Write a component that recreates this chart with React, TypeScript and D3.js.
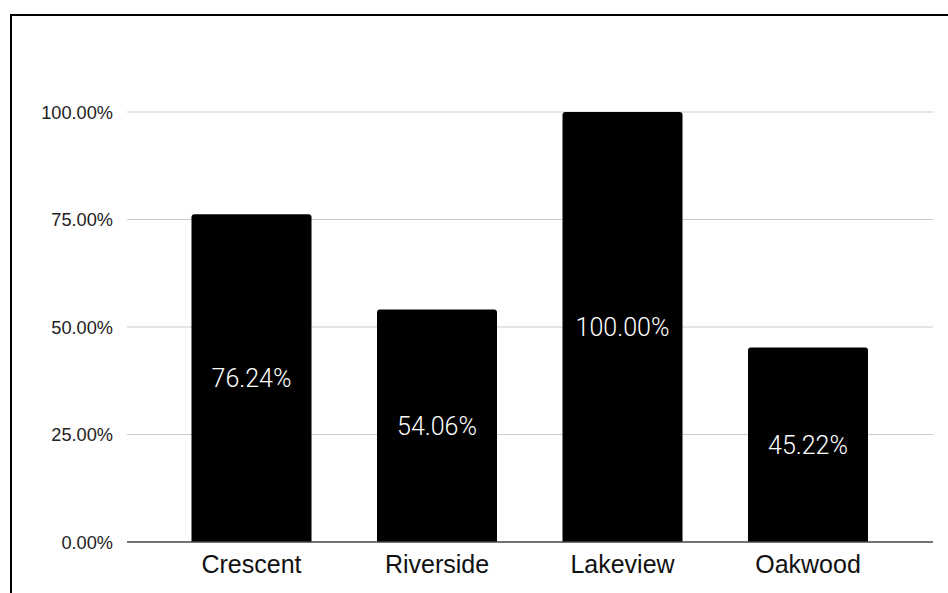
import React from "react";
import * as d3 from "d3";

const categories = ["Crescent", "Riverside", "Lakeview", "Oakwood"];
const values = [76.24, 54.06, 100.0, 45.22];
const yTicks = [0, 25, 50, 75, 100];

const W = 948;
const H = 593;

export default function App() {
  const x = d3
    .scaleBand<string>()
    .domain(categories)
    .range([158.75, 900.75])
    .paddingInner(0.353)
    .paddingOuter(0.1765);
  const y = d3.scaleLinear().domain([0, 100]).range([542, 112]);
  const gridX0 = 127;
  const gridX1 = 933;
  const fmt = (v: number) => v.toFixed(2) + "%";
  const axisFont = "'Liberation Sans', Arial, sans-serif";

  return (
    <svg
      width={W}
      height={H}
      style={{ position: "absolute", left: 0, top: 0, background: "#fff" }}
    >
      {/* frame */}
      <line x1={10.5} y1={15} x2={W} y2={15} stroke="#000" strokeWidth={2} />
      <line x1={11} y1={14} x2={11} y2={H} stroke="#000" strokeWidth={2} />

      {/* gridlines and y labels */}
      {yTicks.map((t) => (
        <g key={t}>
          {t !== 0 && (
            <line
              x1={gridX0}
              x2={gridX1}
              y1={y(t)}
              y2={y(t)}
              stroke="#cccccc"
              strokeWidth={1.2}
            />
          )}
          <text
            x={113}
            y={y(t) + 6.5}
            textAnchor="end"
            fontFamily={axisFont}
            fontSize={18.2}
            fill="#222"
          >
            {fmt(t)}
          </text>
        </g>
      ))}

      {/* bars */}
      {categories.map((c, i) => (
        <path
          key={c}
          d={(() => {
            const x0 = x(c)!;
            const x1 = x0 + x.bandwidth();
            const top = y(values[i]);
            const bottom = y(0);
            const r = 3;
            return `M${x0},${bottom}V${top + r}Q${x0},${top} ${x0 + r},${top}H${x1 - r}Q${x1},${top} ${x1},${top + r}V${bottom}Z`;
          })()}
          fill="#000"
        />
      ))}

      {/* baseline */}
      <line x1={gridX0} x2={gridX1} y1={y(0)} y2={y(0)} stroke="#444" strokeWidth={1.5} />

      {/* value labels */}
      {categories.map((c, i) => (
        <text
          key={c}
          x={x(c)! + x.bandwidth() / 2}
          y={(y(values[i]) + y(0)) / 2 + 9}
          textAnchor="middle"
          fontFamily="Roboto, sans-serif"
          fontWeight={300}
          fontSize={25}
          fill="#fff"
        >
          {fmt(values[i])}
        </text>
      ))}

      {/* category labels */}
      {categories.map((c) => (
        <text
          key={c}
          x={x(c)! + x.bandwidth() / 2}
          y={573}
          textAnchor="middle"
          fontFamily={axisFont}
          fontSize={25}
          fill="#111"
        >
          {c}
        </text>
      ))}
    </svg>
  );
}
